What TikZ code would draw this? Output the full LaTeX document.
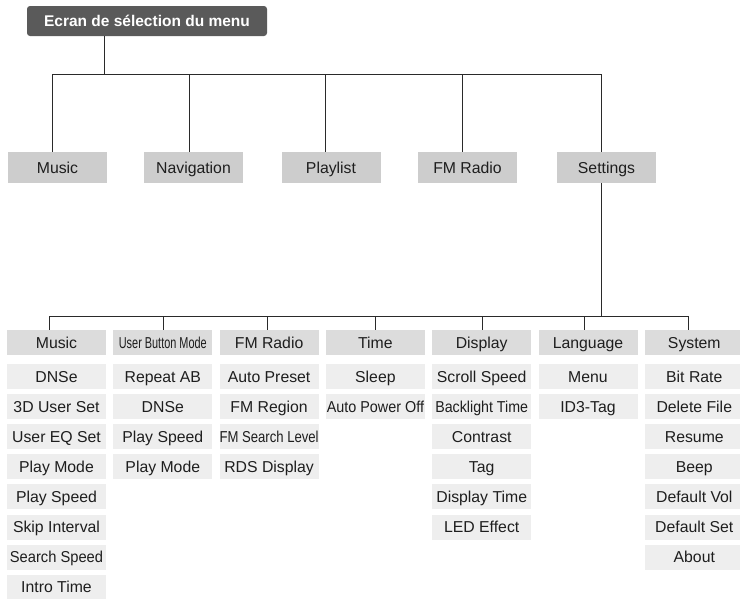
\documentclass[tikz,border=0pt]{standalone}
\usepackage{fontspec}
\usepackage{graphicx}
\setmainfont{Liberation Sans}
\definecolor{rootc}{HTML}{5A5A5A}
\definecolor{mainc}{HTML}{CDCDCD}
\definecolor{headc}{HTML}{DCDCDC}
\definecolor{itemc}{HTML}{EEEEEE}
\definecolor{linec}{HTML}{2A2A2A}
\definecolor{textc}{HTML}{1E1E1E}
\newcommand{\sq}[2]{\scalebox{#1}[1]{#2}}
\begin{document}
\begin{tikzpicture}[x=1pt,y=-1pt,
  conn/.style={draw=linec, line width=0.9pt},
  boxbase/.style={inner sep=0pt, text height=14pt, text depth=3pt},
  rootbox/.style={boxbase, fill=rootc, rounded corners=3pt, minimum width=240pt, minimum height=30pt, text=white, font=\fontsize{15.5}{18}\selectfont\bfseries},
  mainbox/.style={boxbase, fill=mainc, minimum width=99pt, minimum height=31pt, text=textc, font=\fontsize{15.8}{18}\selectfont},
  headbox/.style={boxbase, fill=headc, minimum width=99pt, minimum height=25pt, text=textc, font=\fontsize{15.8}{18}\selectfont},
  itembox/.style={boxbase, fill=itemc, minimum width=99pt, minimum height=25pt, text=textc, font=\fontsize{15.8}{18}\selectfont}]
\useasboundingbox (0,0) rectangle (740,598);
\begin{scope}
\clip (0,0) rectangle (740,598);
% root
\node[rootbox] (root) at (147,21) {Ecran de sélection du menu};
% main level
\node[mainbox] (m1) at (57.5,167.5) {Music};
\node[mainbox] (m2) at (193.5,167.5) {Navigation};
\node[mainbox] (m3) at (331,167.5) {Playlist};
\node[mainbox] (m4) at (467.5,167.5) {FM Radio};
\node[mainbox] (m5) at (606.5,167.5) {Settings};
\coordinate (bus1) at (104,74);
\draw[conn] ([xshift=-43pt]root.south) -- (bus1);
\draw[conn] ([xshift=-5.5pt]m1.north) |- (bus1);
\draw[conn] ([xshift=-4.5pt]m2.north) |- (bus1);
\draw[conn] ([xshift=-6pt]m3.north) |- (bus1);
\draw[conn] ([xshift=-5.5pt]m4.north) |- (bus1);
\draw[conn] ([xshift=-5.5pt]m5.north) |- (bus1);
% settings headers
\node[headbox] (h1) at (56.5,342.5) {Music};
\node[headbox] (h2) at (162.8,342.5) {\sq{0.69}{User Button Mode}};
\node[headbox] (h3) at (269.1,342.5) {FM Radio};
\node[headbox] (h4) at (375.4,342.5) {Time};
\node[headbox] (h5) at (481.7,342.5) {Display};
\node[headbox] (h6) at (588,342.5) {Language};
\node[headbox] (h7) at (694.3,342.5) {System};
\coordinate (bus2) at (601,316);
\draw[conn] ([xshift=-5.5pt]m5.south) -- (bus2);
\draw[conn] ([xshift=-7.5pt]h1.north) |- (bus2);
\draw[conn] ([xshift=0.2pt]h2.north) |- (bus2);
\draw[conn] ([xshift=-2.1pt]h3.north) |- (bus2);
\draw[conn] ([xshift=-0.4pt]h4.north) |- (bus2);
\draw[conn] ([xshift=0.3pt]h5.north) |- (bus2);
\draw[conn] ([xshift=-4pt]h6.north) |- (bus2);
\draw[conn] ([xshift=-6.3pt]h7.north) |- (bus2);
% items
\foreach \t [count=\i] in {DNSe,3D User Set,User EQ Set,Play Mode,Play Speed,Skip Interval,\sq{0.93}{Search Speed},Intro Time}
  \node[itembox] (a\i) at (56.5,{376.5+30.1*(\i-1)}) {\t};
\foreach \t [count=\i] in {Repeat AB,DNSe,Play Speed,Play Mode}
  \node[itembox] (b\i) at (162.8,{376.5+30.1*(\i-1)}) {\t};
\foreach \t [count=\i] in {Auto Preset,FM Region,\sq{0.83}{FM Search Level},RDS Display}
  \node[itembox] (c\i) at (269.1,{376.5+30.1*(\i-1)}) {\t};
\foreach \t [count=\i] in {Sleep,\sq{0.91}{Auto Power Off}}
  \node[itembox] (d\i) at (375.4,{376.5+30.1*(\i-1)}) {\t};
\foreach \t [count=\i] in {Scroll Speed,\sq{0.9}{Backlight Time},Contrast,Tag,Display Time,LED Effect}
  \node[itembox] (e\i) at (481.7,{376.5+30.1*(\i-1)}) {\t};
\foreach \t [count=\i] in {Menu,ID3-Tag}
  \node[itembox] (f\i) at (588,{376.5+30.1*(\i-1)}) {\t};
\foreach \t [count=\i] in {Bit Rate,Delete File,Resume,Beep,Default Vol,Default Set,About}
  \node[itembox] (g\i) at (694.3,{376.5+30.1*(\i-1)}) {\t};
\end{scope}
\end{tikzpicture}
\end{document}
